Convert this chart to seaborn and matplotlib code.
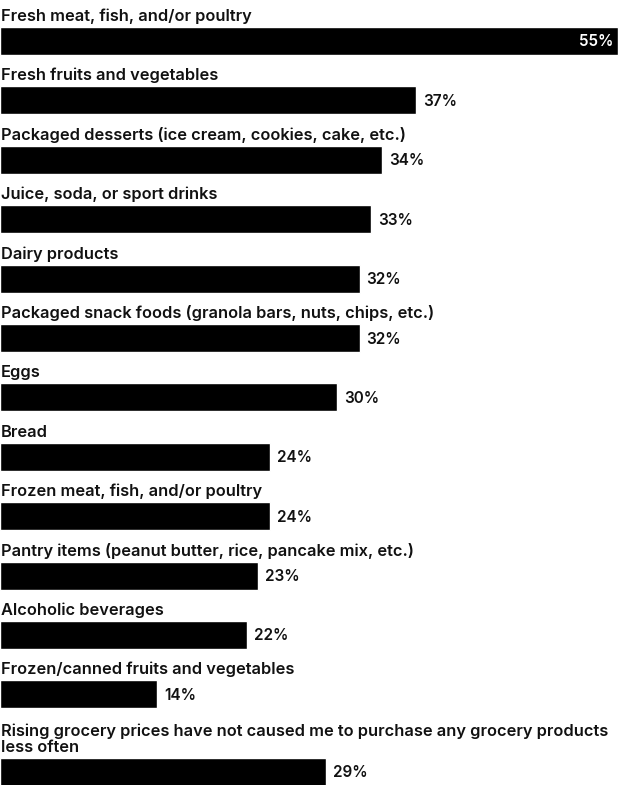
import numpy as np
import pandas as pd
import matplotlib.pyplot as plt
import seaborn as sns

# --- DATA ---
labels = [
    "Fresh meat, fish, and/or poultry",
    "Fresh fruits and vegetables",
    "Packaged desserts (ice cream, cookies, cake, etc.)",
    "Juice, soda, or sport drinks",
    "Dairy products",
    "Packaged snack foods (granola bars, nuts, chips, etc.)",
    "Eggs",
    "Bread",
    "Frozen meat, fish, and/or poultry",
    "Pantry items (peanut butter, rice, pancake mix, etc.)",
    "Alcoholic beverages",
    "Frozen/canned fruits and vegetables",
    "Rising grocery prices have not caused me to purchase any grocery products\nless often",
]
values = [55, 37, 34, 33, 32, 32, 30, 24, 24, 23, 22, 14, 29]

# --- LAYOUT (pixels) ---
W, H = 621, 785
STEP = 59.4
BAR_H = 28
FIRST_CENTER = 41
EXTRA_LAST = 18  # room for the two-line label

pos = [FIRST_CENTER + i * STEP for i in range(len(values))]
pos[-1] += EXTRA_LAST
df = pd.DataFrame({"value": values, "pos": pos})

sns.set_style("white")
plt.rcParams["font.family"] = ["Inter", "DejaVu Sans"]

fig = plt.figure(figsize=(W / 100, H / 100), dpi=100)
ax = fig.add_axes([0, 0, 1, 1])

sns.barplot(data=df, x="value", y="pos", orient="h", native_scale=True,
            color="black", saturation=1, width=BAR_H / STEP, ax=ax)

xmax = 55 * W / 618
px = xmax / W  # data units per pixel
ax.set_xlim(0, xmax)
ax.set_ylim(H, 0)
ax.axis("off")

for lab, v, c in zip(labels, values, pos):
    top = c - BAR_H / 2
    ax.text(1 * px, top - 3, lab, ha="left", va="bottom", fontsize=11.8,
            fontweight="semibold", color="#111111", linespacing=1.1)
    if v * W / xmax > W - 60:
        ax.text(v - 5 * px, c + 1, f"{v}%", ha="right", va="center",
                fontsize=11, fontweight="semibold", color="white")
    else:
        ax.text(v + 7 * px, c + 1, f"{v}%", ha="left", va="center",
                fontsize=11, fontweight="semibold", color="#111111")

fig.savefig("out.png", dpi=100)
